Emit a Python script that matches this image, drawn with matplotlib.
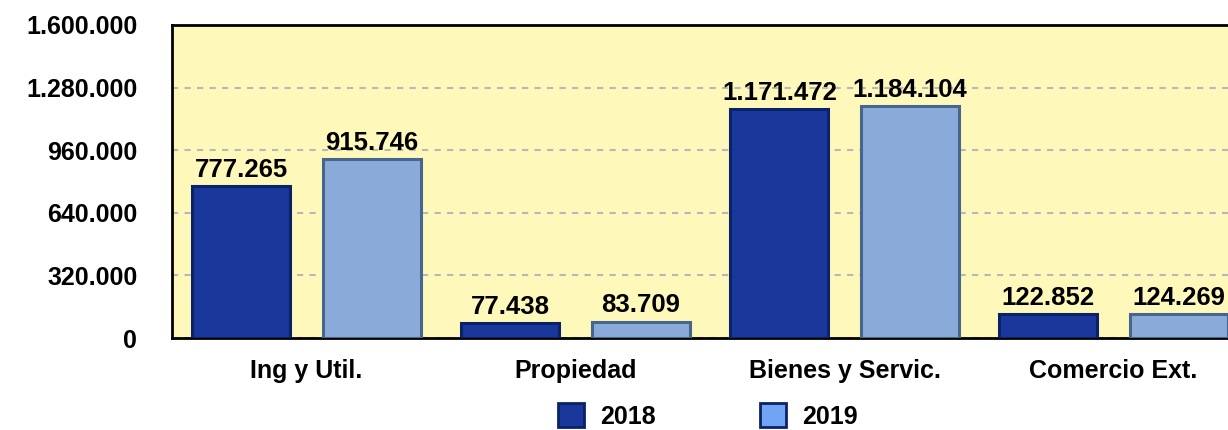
import matplotlib
matplotlib.use("Agg")
import matplotlib.pyplot as plt
import matplotlib.patheffects as pe
from matplotlib.patches import Patch
import numpy as np

categories = ["Ing y Util.", "Propiedad", "Bienes y Servic.", "Comercio Ext."]
series_names = ["2018", "2019"]
values_2018 = [777265, 77438, 1171472, 122852]
values_2019 = [915746, 83709, 1184104, 124269]
yticks = [0, 320000, 640000, 960000, 1280000, 1600000]

def fmt(v):
    return f"{v:,}".replace(",", ".")

plt.rcParams['font.family'] = ['Liberation Sans', 'DejaVu Sans']
plt.rcParams['font.weight'] = 'bold'

W, H = 1228, 430
fig = plt.figure(figsize=(W/100, H/100), dpi=100)
left, right, top, bottom = 172, 1248, 25, 338
ax = fig.add_axes([left/W, 1-bottom/H, (right-left)/W, (bottom-top)/H])
ax.set_facecolor("#fef9bb")

x = np.arange(len(categories))
bw = 0.364
off = 0.242
dark_face, dark_edge = "#1a379b", "#0b2266"
light_face, light_edge = "#8aaad9", "#46668e"

b1 = ax.bar(x - off, values_2018, bw, color=dark_face, edgecolor=dark_edge, linewidth=2.2, zorder=3)
b2 = ax.bar(x + off, values_2019, bw, color=light_face, edgecolor=light_edge, linewidth=2.2, zorder=3,
            path_effects=[pe.SimplePatchShadow(offset=(2, -3), alpha=0.25), pe.Normal()])

for bars, vals in [(b1, values_2018), (b2, values_2019)]:
    for r, v in zip(bars, vals):
        ax.annotate(fmt(v), (r.get_x() + r.get_width()/2, v), xytext=(0, 3),
                    textcoords="offset points", ha="center", va="bottom",
                    fontsize=18.5, fontweight="bold", color="black", zorder=4)

ax.set_xlim(-0.5, 3.5)
ax.set_ylim(0, 1600000)
ax.set_yticks(yticks)
ax.set_yticklabels([fmt(v) for v in yticks], fontsize=18, fontweight="bold")
ax.set_xticks(x)
ax.set_xticklabels(categories, fontsize=18, fontweight="bold")
ax.tick_params(axis="y", length=0, pad=25)
ax.tick_params(axis="x", length=0, pad=15)
ax.yaxis.grid(True, color="#b8b8b8", linestyle=(0, (3, 3)), linewidth=1.5, zorder=1)
ax.set_axisbelow(True)
for s in ["left", "top", "bottom"]:
    ax.spines[s].set_color("black")
    ax.spines[s].set_linewidth(2)
ax.spines["right"].set_visible(False)

handles = [Patch(facecolor="#1a379b", edgecolor="#0b2266", linewidth=2, label=series_names[0]),
           Patch(facecolor="#72a4f5", edgecolor="#0b2266", linewidth=2, label=series_names[1])]
fig.legend(handles=handles, loc="center", bbox_to_anchor=(708/W, 1-416/H), ncol=2,
           frameon=False, handlelength=1.05, handleheight=1.05,
           columnspacing=4.15, handletextpad=0.65, prop={'weight': 'bold', 'size': 18})

fig.savefig("out.png", dpi=100)
